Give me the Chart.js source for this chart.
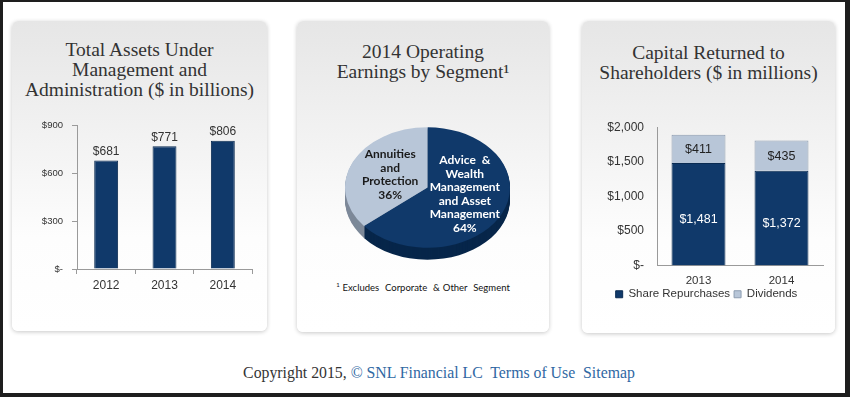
<!DOCTYPE html>
<html>
<head>
<meta charset="utf-8">
<script src="https://cdn.jsdelivr.net/npm/chart.js@4.4.1/dist/chart.umd.min.js"></script>
<style>
html,body{margin:0;padding:0;background:#fff;}
#page{position:relative;width:850px;height:397px;overflow:hidden;background:#fff;}
.bd{position:absolute;background:#1e1e1e;}
.panel{position:absolute;border-radius:6px;background:linear-gradient(to bottom,#e6e6e6 0%,#f3f3f3 40%,#fdfdfd 70%,#ffffff 100%);box-shadow:0 1px 4px rgba(0,0,0,0.22);}
.title{position:absolute;text-align:center;font-family:"Liberation Serif",serif;font-size:19.5px;line-height:20px;color:#333;white-space:nowrap;}
canvas{position:absolute;}
#foot{position:absolute;left:0;width:878px;top:363px;text-align:center;font-family:"Liberation Serif",serif;font-size:15.8px;line-height:20px;color:#333;white-space:nowrap;}
#foot span{color:#2f68a3;}
#note{position:absolute;left:297px;width:252px;top:279px;text-align:center;font-family:Lato,sans-serif;font-size:9.5px;line-height:12px;color:#111;word-spacing:0.5px;white-space:nowrap;}
</style>
</head>
<body>
<div id="page">
  <div class="panel" style="left:12px;top:21px;width:255px;height:310px;"></div>
  <div class="panel" style="left:297px;top:21px;width:252px;height:311px;"></div>
  <div class="panel" style="left:582px;top:21px;width:253px;height:312px;"></div>

  <div class="title" style="left:12px;width:255px;top:40px;">Total Assets Under<br>Management and<br>Administration ($ in billions)</div>
  <div class="title" style="left:297px;width:252px;top:42px;">2014 Operating<br>Earnings by Segment¹</div>
  <div class="title" style="left:582px;width:253px;top:43px;">Capital Returned to<br>Shareholders ($ in millions)</div>

  <canvas id="c1" width="240" height="188" style="left:20px;top:111px;"></canvas>
  <canvas id="c2" width="181" height="181" style="left:337px;top:97px;"></canvas>
  <canvas id="c3" width="240" height="203" style="left:590px;top:107px;"></canvas>

  <div id="note"><sup style="font-size:6px">1</sup> Excludes &nbsp;Corporate &nbsp;&amp; Other &nbsp;Segment</div>
  <div id="foot">Copyright 2015, <span>© SNL Financial LC&nbsp; Terms of Use&nbsp; Sitemap</span></div>

  <div class="bd" style="left:0;top:0;width:850px;height:2px;"></div>
  <div class="bd" style="left:0;top:0;width:3px;height:397px;"></div>
  <div class="bd" style="left:845px;top:0;width:5px;height:397px;"></div>
  <div class="bd" style="left:0;top:393px;width:850px;height:4px;"></div>
</div>
<script>
// ---- data ----
const assetYears = ['2012', '2013', '2014'];
const assetValues = [681, 771, 806];
const assetTickValues = [0, 300, 600, 900];

const segmentNames = ['Advice & Wealth Management and Asset Management', 'Annuities and Protection'];
const segmentShares = [64, 36];
const segmentLabelLines = [
  ['Advice  &', 'Wealth', 'Management', 'and Asset', 'Management'],
  ['Annuities', 'and', 'Protection']
];

const capitalYears = ['2013', '2014'];
const shareRepurchases = [1481, 1372];
const dividends = [411, 435];
const capitalTickValues = [0, 500, 1000, 1500, 2000];
const capitalSeriesNames = ['Share Repurchases', 'Dividends'];

// ---- styles ----
const NAVY = '#10396a';
const NAVY_EDGE = '#0a2b52';
const LIGHT = '#b8c6d8';
const LIGHT_EDGE = '#8d9cb0';
const AXIS = '#9a9a9a';
const TXT = '#333333';
const SANS = '"Liberation Sans", Arial, sans-serif';

const dollar = v => v === 0 ? '$-' : '$' + Number(v).toLocaleString('en-US');

// ---- chart 1: total assets ----
const assetLabels = {
  id: 'assetLabels',
  afterDatasetsDraw(chart) {
    const ctx = chart.ctx;
    const meta = chart.getDatasetMeta(0);
    ctx.save();
    ctx.font = '12px ' + SANS;
    ctx.fillStyle = TXT;
    ctx.textAlign = 'center';
    ctx.textBaseline = 'middle';
    meta.data.forEach((bar, i) => {
      ctx.fillText(dollar(chart.data.datasets[0].data[i]), bar.x, bar.y - 9);
    });
    ctx.restore();
  }
};

new Chart(document.getElementById('c1'), {
  type: 'bar',
  data: {
    labels: assetYears,
    datasets: [{
      data: assetValues,
      backgroundColor: NAVY,
      borderColor: NAVY_EDGE,
      borderWidth: 1,
      categoryPercentage: 1,
      barPercentage: 0.41
    }]
  },
  options: {
    responsive: false,
    animation: false,
    layout: { padding: { top: 0, right: 8, left: 0, bottom: 0 } },
    plugins: { legend: { display: false }, tooltip: { enabled: false } },
    scales: {
      x: {
        grid: { display: true, drawOnChartArea: false, drawTicks: true, tickLength: 5, color: AXIS, offset: true },
        border: { color: AXIS },
        ticks: { color: TXT, font: { family: SANS, size: 12 }, padding: 4 },
        afterFit(s) { s.height = 30; }
      },
      y: {
        min: 0, max: 900,
        afterBuildTicks(s) { s.ticks = assetTickValues.map(v => ({ value: v })); },
        grid: { display: true, drawOnChartArea: false, drawTicks: true, tickLength: 5, color: AXIS },
        border: { color: AXIS },
        ticks: { color: TXT, font: { family: SANS, size: 9.5 }, padding: 9, callback: v => dollar(v) },
        afterFit(s) { s.width = 57; }
      }
    }
  },
  plugins: [assetLabels]
});

// ---- chart 2: 3D-look pie ----
const pie3d = {
  id: 'pie3d',
  beforeDatasetsDraw(chart, args, opts) {
    const ctx = chart.ctx;
    const meta = chart.getDatasetMeta(0);
    const a0 = meta.data[0];
    const cx = a0.x, cy = a0.y;
    for (let d = opts.depth; d >= 1; d--) {
      ctx.save();
      ctx.translate(cx, cy + d);
      ctx.scale(1, opts.tilt);
      ctx.translate(-cx, -cy);
      meta.data.forEach((arc, i) => {
        ctx.beginPath();
        ctx.moveTo(cx, cy);
        ctx.arc(cx, cy, arc.outerRadius, arc.startAngle, arc.endAngle);
        ctx.closePath();
        ctx.fillStyle = opts.sideColors[i];
        ctx.fill();
      });
      ctx.restore();
    }
    ctx.save();
    ctx.translate(cx, cy);
    ctx.scale(1, opts.tilt);
    ctx.translate(-cx, -cy);
  },
  afterDatasetsDraw(chart, args, opts) {
    const ctx = chart.ctx;
    ctx.restore();
    const meta = chart.getDatasetMeta(0);
    ctx.save();
    ctx.font = 'bold 12px Lato, sans-serif';
    ctx.textAlign = 'center';
    ctx.textBaseline = 'middle';
    meta.data.forEach((arc, i) => {
      const mid = (arc.startAngle + arc.endAngle) / 2;
      const r = arc.outerRadius * 0.5;
      const x = arc.x + Math.cos(mid) * r;
      const y = arc.y + Math.sin(mid) * r * opts.tilt + opts.dy[i];
      const lines = segmentLabelLines[i].concat([segmentShares[i] + '%']);
      const lh = 13.5;
      ctx.fillStyle = opts.textColors[i];
      lines.forEach((t, k) => {
        ctx.fillText(t, x, y + (k - (lines.length - 1) / 2) * lh);
      });
    });
    ctx.restore();
  }
};

new Chart(document.getElementById('c2'), {
  type: 'pie',
  data: {
    labels: segmentNames,
    datasets: [{
      data: segmentShares,
      backgroundColor: [NAVY, LIGHT],
      borderWidth: 0
    }]
  },
  options: {
    responsive: false,
    animation: false,
    layout: { padding: 8 },
    plugins: {
      legend: { display: false },
      tooltip: { enabled: false },
      pie3d: { tilt: 0.73, depth: 12, sideColors: ['#07264a', '#7d8999'], textColors: ['#ffffff', '#1a1a1a'], dy: [-6, 0] }
    }
  },
  plugins: [pie3d]
});

// ---- chart 3: capital returned ----
const capLabels = {
  id: 'capLabels',
  afterDatasetsDraw(chart) {
    const ctx = chart.ctx;
    ctx.save();
    ctx.font = '12.5px ' + SANS;
    ctx.textAlign = 'center';
    ctx.textBaseline = 'middle';
    chart.data.datasets.forEach((ds, di) => {
      const meta = chart.getDatasetMeta(di);
      meta.data.forEach((bar, i) => {
        const y = (bar.y + bar.base) / 2 + (di === 0 ? 5 : 1);
        ctx.fillStyle = di === 0 ? '#ffffff' : '#222222';
        ctx.fillText(dollar(ds.data[i]), bar.x, y);
      });
    });
    ctx.restore();
  }
};

new Chart(document.getElementById('c3'), {
  type: 'bar',
  data: {
    labels: capitalYears,
    datasets: [
      { label: capitalSeriesNames[0], data: shareRepurchases, backgroundColor: NAVY, borderColor: NAVY_EDGE, borderWidth: 1, categoryPercentage: 1, barPercentage: 0.65 },
      { label: capitalSeriesNames[1], data: dividends, backgroundColor: LIGHT, borderColor: LIGHT_EDGE, borderWidth: 1, categoryPercentage: 1, barPercentage: 0.65 }
    ]
  },
  options: {
    responsive: false,
    animation: false,
    layout: { padding: { top: 0, right: 7, left: 0, bottom: 0 } },
    plugins: {
      tooltip: { enabled: false },
      legend: {
        display: true,
        position: 'bottom',
        labels: {
          boxWidth: 7, boxHeight: 7, padding: 4,
          color: TXT,
          font: { family: SANS, size: 11.5 }
        }
      }
    },
    scales: {
      x: {
        stacked: true,
        grid: { display: false, drawTicks: false },
        border: { color: AXIS },
        ticks: { color: TXT, font: { family: SANS, size: 11.5 }, padding: 8 },
        afterFit(s) { s.height = 19; }
      },
      y: {
        stacked: true,
        min: 0, max: 2000,
        afterBuildTicks(s) { s.ticks = capitalTickValues.map(v => ({ value: v })); },
        grid: { display: false, drawTicks: false },
        border: { color: AXIS },
        ticks: { color: TXT, font: { family: SANS, size: 12 }, padding: 13, callback: v => dollar(v) },
        afterFit(s) { s.width = 67; }
      }
    }
  },
  plugins: [capLabels]
});
</script>
</body>
</html>
